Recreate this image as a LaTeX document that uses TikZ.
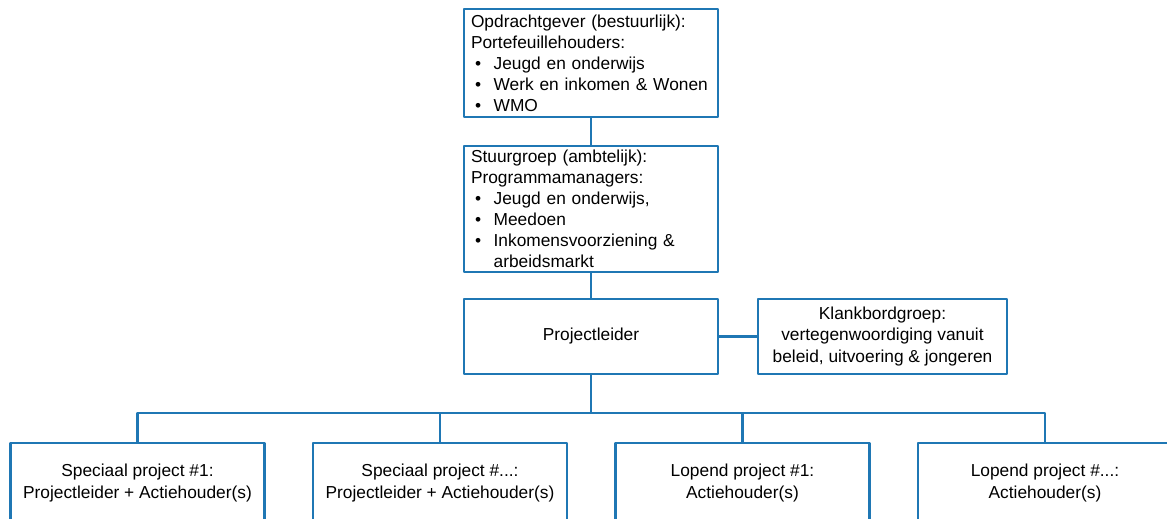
\documentclass[tikz,border=0pt]{standalone}
\usepackage{fontspec}
\setmainfont{Liberation Sans}
\definecolor{orgblue}{RGB}{31,119,180}
\hyphenpenalty=10000
\newcommand{\bul}{\makebox[17pt][l]{\hspace{3pt}\textbullet}}
\begin{document}
\begin{tikzpicture}[x=0.75pt,y=-0.75pt, font=\fontsize{13}{15.8}\selectfont, line join=round,
    box/.style={draw=orgblue, line width=1.6pt, minimum width=190.5pt, inner xsep=5.25pt, inner ysep=0pt, align=center},
    listbox/.style={box, text width=180pt, align=left},
    link/.style={draw=orgblue, line width=1.6pt}]
    \useasboundingbox (0,0) rectangle (1167,518);
    \clip (0,0) rectangle (1167,518);
    \node[listbox, minimum height=81pt] (opdr) at (591,63) {Opdrachtgever (bestuurlijk):\\Portefeuillehouders:\\\bul Jeugd en onderwijs\\\bul Werk en inkomen \& Wonen\\\bul WMO};
    \node[listbox, minimum height=94.5pt] (stuur) at (591,209) {Stuurgroep (ambtelijk):\\Programmamanagers:\\\bul Jeugd en onderwijs,\\\bul Meedoen\\\bul Inkomensvoorziening \&\\\hspace*{17pt}arbeidsmarkt};
    \node[box, minimum height=56.25pt] (pl) at (591,336.5) {Projectleider};
    \node[box, minimum width=186.75pt, minimum height=56.25pt] (klank) at (882.5,336.5) {Klankbordgroep:\\vertegenwoordiging vanuit\\beleid, uitvoering \& jongeren};
    \node[box, minimum height=60pt] (sp1) at (137.5,483) {Speciaal project \#1:\\Projectleider + Actiehouder(s)};
    \node[box, minimum height=60pt] (sp2) at (440,483) {Speciaal project \#...:\\Projectleider + Actiehouder(s)};
    \node[box, minimum height=60pt] (lp1) at (742.5,483) {Lopend project \#1:\\Actiehouder(s)};
    \node[box, minimum height=60pt] (lp2) at (1045,483) {Lopend project \#...:\\Actiehouder(s)};
    \coordinate (bus) at (0,413);
    \draw[link] (opdr) -- (stuur);
    \draw[link] (stuur) -- (pl);
    \draw[link] (pl) -- (klank);
    \draw[link] (pl) -- (pl |- bus);
    \draw[link] (sp1.north) |- (bus -| lp2.north) -- (lp2.north);
    \draw[link] (sp2.north) -- (sp2.north |- bus);
    \draw[link] (lp1.north) -- (lp1.north |- bus);
\end{tikzpicture}
\end{document}
